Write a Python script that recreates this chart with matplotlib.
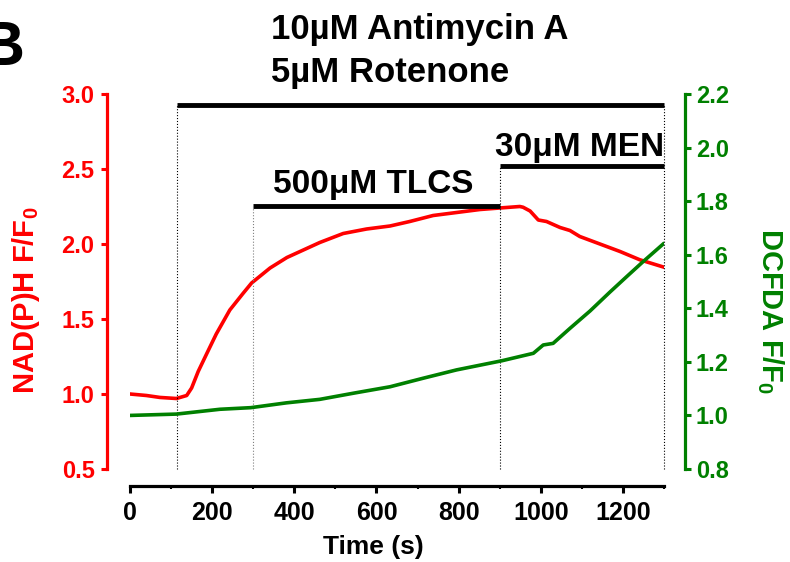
import matplotlib
matplotlib.use("Agg")
import matplotlib.pyplot as plt
from matplotlib.ticker import MultipleLocator

plt.rcParams['font.family'] = ['Liberation Sans', 'DejaVu Sans']
plt.rcParams['font.weight'] = 'bold'
plt.rcParams['mathtext.fontset'] = 'custom'
plt.rcParams['mathtext.rm'] = 'Liberation Sans:bold'
plt.rcParams['mathtext.bf'] = 'Liberation Sans:bold'
plt.rcParams['mathtext.default'] = 'rm'

RED = '#ff0000'
GREEN = '#008000'

# NAD(P)H trace (left axis)
t_nadh = [0, 40, 73, 113, 138, 150, 166, 187, 210, 243, 275, 296, 341, 382,
          430, 462, 519, 576, 633, 681, 738, 795, 852, 900, 949, 957, 974,
          994, 1014, 1047, 1071, 1095, 1144, 1193, 1241, 1298]
nadh = [1.00, 0.99, 0.977, 0.97, 0.99, 1.04, 1.15, 1.27, 1.40, 1.56, 1.67,
        1.74, 1.84, 1.91, 1.97, 2.01, 2.07, 2.10, 2.12, 2.15, 2.19, 2.21,
        2.23, 2.24, 2.25, 2.245, 2.22, 2.16, 2.15, 2.11, 2.09, 2.05, 2.00,
        1.95, 1.895, 1.847]

# DCFDA trace (right axis)
t_dcf = [0, 113, 219, 294, 381, 462, 544, 633, 714, 795, 905, 982, 1006,
         1030, 1071, 1120, 1168, 1209, 1249, 1298]
dcf = [1.00, 1.005, 1.023, 1.029, 1.047, 1.06, 1.083, 1.107, 1.139, 1.17,
       1.204, 1.232, 1.263, 1.269, 1.325, 1.39, 1.46, 1.518, 1.574, 1.64]

# treatment bars: (start, end, level on left axis)
bar_ar = (115, 1300, 2.93)
bar_tlcs = (300, 900, 2.255)
bar_men = (900, 1300, 2.518)

fig = plt.figure(figsize=(7.9, 5.62), dpi=100)
ax = fig.add_axes([130 / 790, 1 - 469 / 562, 534 / 790, 375 / 562])
ax2 = ax.twinx()

ax.plot(t_nadh, nadh, color=RED, lw=2.6)
ax2.plot(t_dcf, dcf, color=GREEN, lw=2.6)

ax.set_xlim(0, 1300)
ax.set_ylim(0.5, 3.0)
ax2.set_ylim(0.8, 2.2)

# bars and dotted drop lines
for x0, x1, y in (bar_ar, bar_tlcs, bar_men):
    ax.plot([x0, x1], [y, y], color='black', lw=3.5, solid_capstyle='butt',
            clip_on=False)
ax.vlines([bar_ar[0], bar_ar[1]], 0.5, bar_ar[2], colors='black',
          linestyles=':', lw=0.8, clip_on=False)
ax.vlines(bar_tlcs[0], 0.5, bar_tlcs[2], colors='gray', linestyles=':',
          lw=0.8, clip_on=False)
ax.vlines(bar_men[0], 0.5, bar_men[2], colors='black', linestyles=':',
          lw=0.8, clip_on=False)

ax.text(343, 3.369, '10µM Antimycin A', fontsize=25, fontweight='bold',
        ha='left', va='baseline')
ax.text(343, 3.082, '5µM Rotenone', fontsize=25, fontweight='bold',
        ha='left', va='baseline')
ax.text(348, 2.342, '500μM TLCS', fontsize=24, fontweight='bold',
        ha='left', va='baseline')
ax.text(888, 2.589, '30μM MEN', fontsize=24, fontweight='bold',
        ha='left', va='baseline')

fig.text(25 / 790, 1 - 65 / 562, 'B', fontsize=45, fontweight='bold',
         ha='right', va='baseline')

# spines
for a in (ax, ax2):
    a.spines['top'].set_visible(False)
ax.spines['right'].set_visible(False)
ax2.spines['left'].set_visible(False)
ax2.spines['bottom'].set_visible(False)
ax.spines['left'].set_position(('outward', 16.5))
ax.spines['left'].set_color(RED)
ax.spines['left'].set_linewidth(2.3)
ax.spines['bottom'].set_position(('outward', 12))
ax.spines['bottom'].set_linewidth(2.3)
ax2.spines['right'].set_position(('outward', 15))
ax2.spines['right'].set_color(GREEN)
ax2.spines['right'].set_linewidth(2.3)

ax.xaxis.set_major_locator(MultipleLocator(200))
ax.xaxis.set_minor_locator(MultipleLocator(100))
ax.yaxis.set_major_locator(MultipleLocator(0.5))
ax2.yaxis.set_major_locator(MultipleLocator(0.2))

ax.tick_params(axis='x', which='major', length=5, width=2.2, labelsize=18,
               pad=6)
ax.tick_params(axis='x', which='minor', length=2, width=1.5)
ax.tick_params(axis='y', length=4, width=2.2, color=RED, labelcolor=RED,
               labelsize=17, pad=5)
ax2.tick_params(axis='y', length=4, width=2.2, color=GREEN,
                labelcolor=GREEN, labelsize=17, pad=4)
for lab in ax.get_xticklabels() + ax.get_yticklabels() + ax2.get_yticklabels():
    lab.set_fontweight('bold')

ax.set_xlabel('Time (s)', fontsize=19, fontweight='bold', va='center')
ax.xaxis.set_label_coords(0.455, -0.208)
ax.set_ylabel('NAD(P)H F/F$_0$', fontsize=21, fontweight='bold', color=RED,
              va='center')
ax.yaxis.set_label_coords(-0.195, 0.45)
ax2.set_ylabel('DCFDA F/F$_0$', fontsize=21, fontweight='bold', color=GREEN,
               rotation=-90, va='center')
ax2.yaxis.set_label_coords(1.2, 0.42)

fig.savefig('out.png', dpi=100)
